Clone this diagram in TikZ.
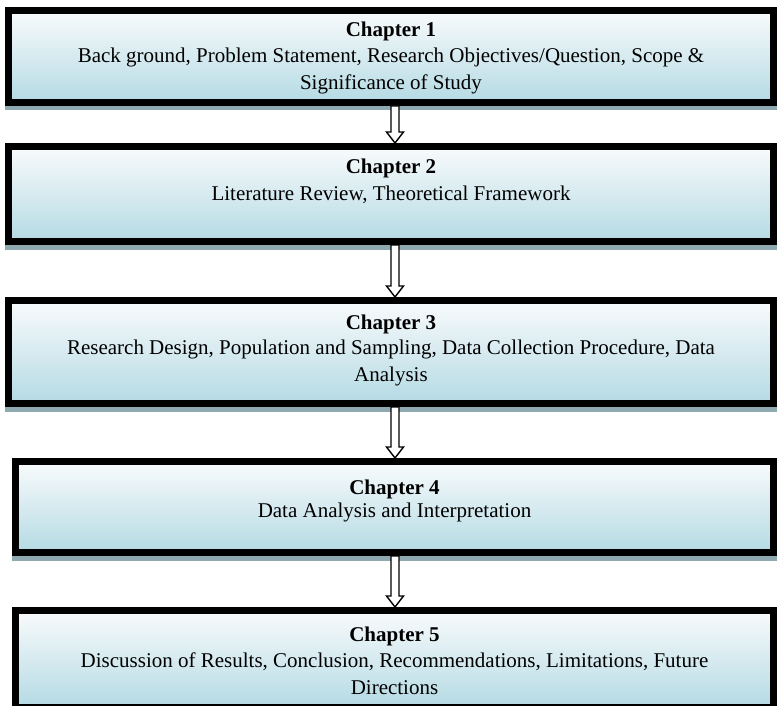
\documentclass[tikz,border=0pt]{standalone}
\usepackage{fontspec}
\setmainfont{Liberation Serif}
\usetikzlibrary{calc}
\definecolor{topc}{HTML}{F9FBFC}
\definecolor{midc}{HTML}{E1EEF2}
\definecolor{botc}{HTML}{B4DAE4}
\definecolor{shadowc}{HTML}{8FA9B1}
\tikzset{
  chapbox/.style={draw=black, line width=7pt, inner sep=0pt, outer sep=0pt,
    top color=topc, middle color=midc, bottom color=botc},
  chaptext/.style={anchor=north, align=center, inner sep=0pt,
    font=\fontsize{21}{26.5}\selectfont},
  flowarrow/.style={draw=black, line width=1.4pt, fill=white, line join=miter},
  boxshadow/.style={fill=shadowc, draw=none}
}
\begin{document}
\begin{tikzpicture}[x=1pt, y=-1pt]
\useasboundingbox (0,0) rectangle (777,706);
% shadows
\fill[boxshadow] (5,12) rectangle (777,110.5);
\fill[boxshadow] (5,148) rectangle (777,249.5);
\fill[boxshadow] (5,302) rectangle (777,411.5);
\fill[boxshadow] (12,463) rectangle (777,560.5);
\fill[boxshadow] (12,612) rectangle (777,716);
% boxes
\node[chapbox, minimum width=765pt, minimum height=92pt] (b1) at (391,56.5) {};
\node[chapbox, minimum width=765pt, minimum height=95pt] (b2) at (391,194) {};
\node[chapbox, minimum width=765pt, minimum height=103pt] (b3) at (391,352) {};
\node[chapbox, minimum width=758pt, minimum height=91pt] (b4) at (394.5,507) {};
\node[chapbox, minimum width=758pt, minimum height=97pt] (b5) at (394.5,659) {};
% texts
\node[chaptext] (t1) at (391,21.5) {\textbf{Chapter 1}\\Back ground, Problem Statement, Research Objectives/Question, Scope \&\\Significance of Study};
\node[chaptext] (t2) at (391,158.5) {\textbf{Chapter 2}\\[1pt]Literature Review, Theoretical Framework};
\node[chaptext] (t3) at (391,314.5) {\textbf{Chapter 3}\\[-1pt]Research Design, Population and Sampling, Data Collection Procedure, Data\\Analysis};
\node[chaptext] (t4) at (394.5,479.5) {\textbf{Chapter 4}\\[-3.5pt]Data Analysis and Interpretation};
\node[chaptext] (t5) at (394.5,626.5) {\textbf{Chapter 5}\\Discussion of Results, Conclusion, Recommendations, Limitations, Future\\Directions};
% arrows
\foreach \a/\b in {b1/b2, b2/b3, b3/b4, b4/b5}{
  \coordinate (s) at ($(\a.south)+(0,3.5)$);
  \coordinate (t) at ($(\b.north)+(0,-3.5)$);
  \draw[flowarrow] (s -| 395,0) ++(-4,0) coordinate (p1)
    -- ($(t -| 395,0)+(-4,-11)$) -- ($(t -| 395,0)+(-8.5,-11)$)
    -- (t -| 395,0) -- ($(t -| 395,0)+(8.5,-11)$) -- ($(t -| 395,0)+(4,-11)$)
    -- ($(s -| 395,0)+(4,0)$) -- cycle;
}
\end{tikzpicture}
\end{document}
